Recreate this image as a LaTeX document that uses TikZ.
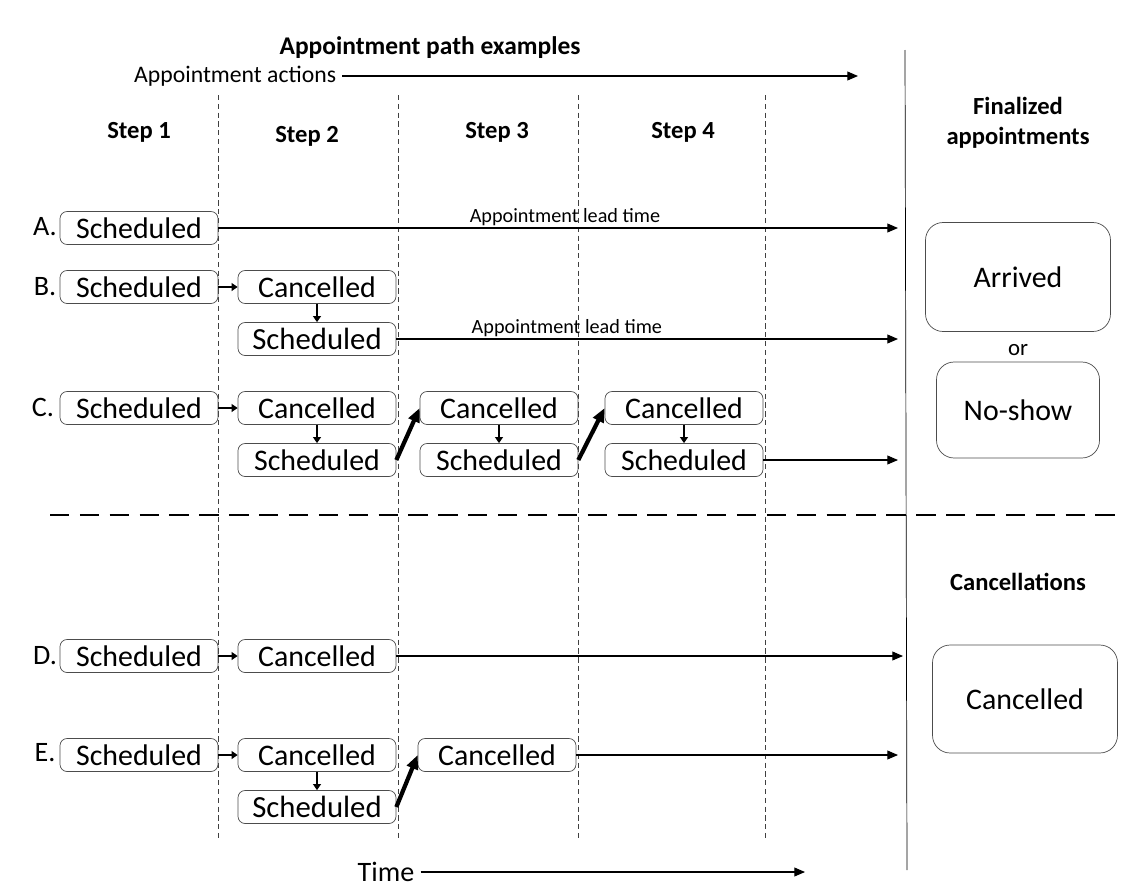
\documentclass[tikz,border=0pt]{standalone}
\usepackage{fontspec}
\setmainfont{Carlito}
\usetikzlibrary{positioning, arrows.meta}
\tikzset{
  stbox/.style    = {draw=black!70, rounded corners=4pt, minimum width=3.16cm, minimum height=0.66cm, inner sep=0pt, font=\fontsize{17}{20}\selectfont},
  finbox/.style   = {draw=black!70, rounded corners=10pt, minimum width=3.7cm, minimum height=2.16cm, font=\fontsize{17}{20}\selectfont},
  lbl/.style      = {font=\fontsize{16}{19}\selectfont},
  head/.style     = {font=\bfseries\fontsize{14}{17}\selectfont, align=center},
  leadlbl/.style  = {font=\fontsize{11.5}{13}\selectfont, inner sep=1pt},
  arrow/.style    = {-{Triangle[length=6pt,width=5pt]}, semithick},
  nudge/.style    = {-{Triangle[length=3.5pt,width=4.5pt]}, line width=1.5pt},
  jump/.style     = {-{Triangle[length=8pt,width=6.5pt]}, line width=2.4pt},
  stepline/.style = {densely dashed, black!75, line width=0.5pt}
}

\begin{document}
\begin{tikzpicture}[x=0.02cm, y=-0.02cm]
  \useasboundingbox (0,0) rectangle (1125,889);

  % headings
  \node[head, font=\bfseries\fontsize{14.5}{17}\selectfont] (title) at (430,48) {Appointment path examples};
  \node[lbl, anchor=west, font=\fontsize{13.5}{16}\selectfont] (actions) at (128,76) {Appointment actions};
  \coordinate (actend) at (858,76);
  \draw[arrow] (actions) -- (actend);
  \node[head] (s1) at (139,132) {Step 1};
  \node[head] (s2) at (307,136) {Step 2};
  \node[head] (s3) at (497,132) {Step 3};
  \node[head] (s4) at (683,132) {Step 4};
  \node[head] (fin) at (1018,123) {Finalized\\appointments};
  \node[head] (canc) at (1018,582) {Cancellations};

  % grid lines
  \foreach \x in {218,398,578,765}
    \draw[stepline] (\x,95) -- (\x,840);
  \draw[thin] (905,50) -- (907,870);
  \draw[line width=1.5pt, dash pattern=on 11pt off 6pt] (50,515) -- (1125,515);

  % row A
  \node[lbl] (la) at (45,227) {A.};
  \node[stbox] (a1) at (139,228) {Scheduled};
  \coordinate (aend) at (898,228);
  \draw[arrow] (a1) -- node[above, pos=0.51, leadlbl] {Appointment lead time} (aend);

  % row B
  \node[lbl] (lb) at (45,287) {B.};
  \node[stbox] (b1) at (139,287) {Scheduled};
  \node[stbox] (b2) at (317,287) {Cancelled};
  \node[stbox, font=\fontsize{17.5}{20}\selectfont] (b3) at (317,339) {Scheduled};
  \coordinate (bend) at (898,339);
  \draw[nudge] (b1) -- (b2);
  \draw[nudge] (b2) -- (b3);
  \draw[arrow] (b3) -- node[above, pos=0.34, leadlbl] {Appointment lead time} (bend);

  % row C
  \node[lbl] (lc) at (43,407) {C.};
  \node[stbox] (c1) at (139,408) {Scheduled};
  \node[stbox] (c2) at (317,408) {Cancelled};
  \node[stbox] (c3) at (317,460) {Scheduled};
  \node[stbox] (c4) at (499,408) {Cancelled};
  \node[stbox] (c5) at (499,460) {Scheduled};
  \node[stbox] (c6) at (684,408) {Cancelled};
  \node[stbox] (c7) at (684,460) {Scheduled};
  \coordinate (cend) at (898,460);
  \draw[nudge] (c1) -- (c2);
  \draw[nudge] (c2) -- (c3);
  \draw[jump] (c3.east) -- (c4.west);
  \draw[nudge] (c4) -- (c5);
  \draw[jump] (c5.east) -- (c6.west);
  \draw[nudge] (c6) -- (c7);
  \draw[arrow] (c7) -- (cend);

  % row D
  \node[lbl] (ld) at (45,656) {D.};
  \node[stbox] (d1) at (139,656) {Scheduled};
  \node[stbox] (d2) at (317,656) {Cancelled};
  \coordinate (dend) at (903,656);
  \draw[nudge] (d1) -- (d2);
  \draw[arrow] (d2) -- (dend);

  % row E
  \node[lbl] (le) at (45,753) {E.};
  \node[stbox] (e1) at (139,755) {Scheduled};
  \node[stbox] (e2) at (317,755) {Cancelled};
  \node[stbox, font=\fontsize{17.5}{20}\selectfont] (e3) at (317,807) {Scheduled};
  \node[stbox] (e4) at (497,755) {Cancelled};
  \coordinate (eend) at (898,755);
  \draw[nudge] (e1) -- (e2);
  \draw[nudge] (e2) -- (e3);
  \draw[jump] (e3.east) -- (e4.west);
  \draw[arrow] (e4) -- (eend);

  % outcomes
  \node[finbox, minimum height=2.18cm] (arr) at (1018,277) {Arrived};
  \node[lbl, font=\fontsize{13}{15}\selectfont] (or) at (1018,350) {or};
  \node[finbox, minimum width=3.26cm, minimum height=1.92cm] (noshow) at (1018,410) {No-show};
  \node[finbox] (cfin) at (1025,699) {Cancelled};

  % time axis
  \node[lbl] (time) at (386,872) {Time};
  \coordinate (timeend) at (805,872);
  \draw[arrow] (time) -- (timeend);
\end{tikzpicture}
\end{document}
